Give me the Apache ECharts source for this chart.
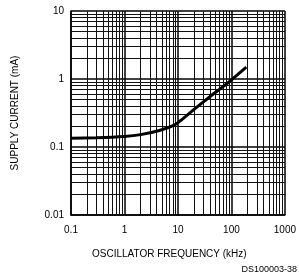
<!DOCTYPE html>
<html><head><meta charset="utf-8">
<script src="https://cdn.jsdelivr.net/npm/echarts@6/dist/echarts.min.js"></script>
<style>html,body{margin:0;padding:0;background:#fff}#c{width:299px;height:280px}</style>
</head><body><div id="c"></div>
<script>
var freqKHz = [0.1, 0.3, 1, 2, 4.5, 8.5, 12, 19, 38, 80, 190];
var supplyMA = [0.135, 0.137, 0.143, 0.152, 0.175, 0.21, 0.255, 0.345, 0.535, 0.84, 1.5];
var xTickLabels = ['0.1', '1', '10', '100', '1000'];
var yTickLabels = ['0.01', '0.1', '1', '10'];

var xMinor = [], yMinor = [];
[0.1, 1, 10, 100].forEach(function (d) { for (var k = 2; k <= 9; k++) xMinor.push(+(d * k).toPrecision(3)); });
[0.01, 0.1, 1].forEach(function (d) { for (var k = 2; k <= 9; k++) yMinor.push(+(d * k).toPrecision(3)); });

var chart = echarts.init(document.getElementById('c'));
var font = 'Liberation Sans';
chart.setOption({
  animation: false,
  grid: { left: 71, right: 13, top: 11, bottom: 65 },
  xAxis: {
    type: 'log', min: 0.1, max: 1000, logBase: 10,
    axisLine: { lineStyle: { color: '#000', width: 1.5 } },
    axisTick: { show: false },
    splitLine: { show: true, lineStyle: { color: '#000', width: 1.5 } },
    axisLabel: { color: '#000', fontFamily: font, fontSize: 10, margin: 10,
      formatter: function (v) { var i = Math.round(Math.log10(v)) + 1; return xTickLabels[i]; } }
  },
  yAxis: {
    type: 'log', min: 0.01, max: 10, logBase: 10,
    axisLine: { lineStyle: { color: '#000', width: 1.5 } },
    axisTick: { show: false },
    splitLine: { show: true, lineStyle: { color: '#000', width: 1.5 } },
    axisLabel: { color: '#000', fontFamily: font, fontSize: 10, margin: 7,
      formatter: function (v) { var i = Math.round(Math.log10(v)) + 2; return yTickLabels[i]; } }
  },
  series: [{
    type: 'line',
    data: freqKHz.map(function (x, i) { return [x, supplyMA[i]]; }),
    smooth: 0.2,
    showSymbol: false,
    lineStyle: { color: '#000', width: 3 },
    z: 5,
    markLine: {
      silent: true, symbol: 'none', label: { show: false },
      lineStyle: { color: '#111', width: 1, type: 'solid' },
      data: xMinor.map(function (v) { return { xAxis: v }; })
        .concat(yMinor.map(function (v) { return { yAxis: v }; }))
    }
  }],
  graphic: [
    { type: 'text', left: 92, top: 249, style: { text: 'OSCILLATOR FREQUENCY (kHz)', fill: '#000', font: '10px "Liberation Sans"' } },
    { type: 'text', right: 2, top: 265, style: { text: 'DS100003-38', fill: '#000', font: '9px "Liberation Sans"' } },
    { type: 'text', x: 15, y: 113, rotation: Math.PI / 2,
      style: { text: 'SUPPLY CURRENT (mA)', fill: '#000', font: '10px "Liberation Sans"', align: 'center', verticalAlign: 'middle' } }
  ]
});
</script></body></html>
